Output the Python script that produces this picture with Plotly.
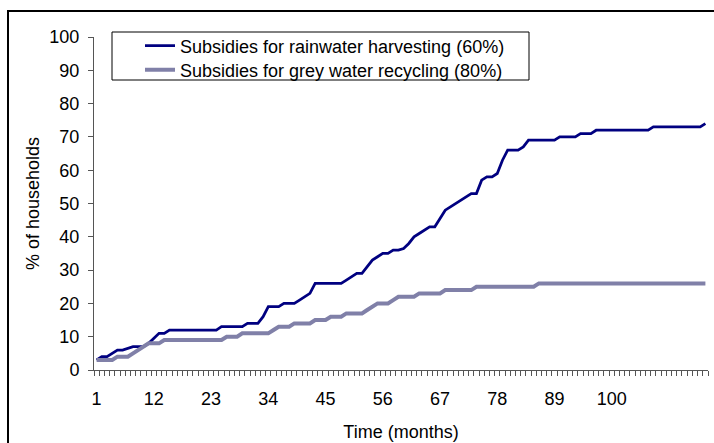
import plotly.graph_objects as go

months = list(range(1, 119))

rainwater = (
    [3, 4, 4, 5, 6, 6, 6.5, 7, 7, 7, 8, 9.5, 11, 11]
    + [12] * 10
    + [13] * 5
    + [14] * 3
    + [16, 19, 19, 19, 20, 20, 20, 21, 22, 23]
    + [26] * 6
    + [27, 28, 29, 29, 31, 33, 34, 35, 35, 36, 36, 36.5, 38, 40, 41, 42,
       43, 43, 45.5, 48, 49, 50, 51, 52, 53, 53, 57, 58, 58, 59, 63,
       66, 66, 66, 67]
    + [69] * 6
    + [70] * 4
    + [71] * 3
    + [72] * 11
    + [73] * 10
    + [74]
)

greywater = (
    [3] * 4
    + [4, 4, 4, 5, 6, 7]
    + [8] * 3
    + [9] * 12
    + [10] * 3
    + [11] * 6
    + [12]
    + [13] * 3
    + [14] * 4
    + [15] * 3
    + [16] * 3
    + [17] * 4
    + [18, 19]
    + [20] * 3
    + [21]
    + [22] * 4
    + [23] * 5
    + [24] * 6
    + [25] * 12
    + [26] * 33
)

x_tickvals = [1, 12, 23, 34, 45, 56, 67, 78, 89, 100]
y_tickvals = list(range(0, 101, 10))

series_names = [
    "Subsidies for rainwater harvesting (60%)",
    "Subsidies for grey water recycling (80%)",
]

FONT = "Liberation Sans, Arial, sans-serif"

W, H = 714, 443
L, R, T, B = 94, 6, 37, 73
pw = W - L - R
ph = H - T - B


def px_to_paper_x(px):
    return (px - L) / pw


def px_to_paper_y(py):
    return (H - B - py) / ph


fig = go.Figure()
fig.add_trace(go.Scatter(
    x=months, y=rainwater, mode="lines", name=series_names[0],
    line=dict(color="#000080", width=2.75), legend="legend",
))
fig.add_trace(go.Scatter(
    x=months, y=greywater, mode="lines", name=series_names[1],
    line=dict(color="#8080A8", width=4), legend="legend2",
))

legend_common = dict(
    xanchor="left", yanchor="middle",
    bgcolor="rgba(0,0,0,0)", borderwidth=0,
    font=dict(family=FONT, size=18, color="black"),
)

fig.update_layout(
    width=W, height=H,
    margin=dict(l=L, r=R, t=T, b=B, autoexpand=False),
    paper_bgcolor="white", plot_bgcolor="white",
    font=dict(family=FONT, size=18, color="black"),
    showlegend=True,
    legend=dict(x=px_to_paper_x(140), y=px_to_paper_y(46), **legend_common),
    legend2=dict(x=px_to_paper_x(140), y=px_to_paper_y(70), **legend_common),
    xaxis=dict(
        range=[0.5, 118.5],
        tickmode="array", tickvals=x_tickvals,
        ticks="", showgrid=False, zeroline=False, automargin=False,
        showline=True, linecolor="#555555", linewidth=1,
        tickfont=dict(family=FONT, size=18),
        ticklabelstandoff=12,
        minor=dict(ticks="outside", tick0=0.5, dtick=1, ticklen=5,
                   tickcolor="#555555", tickwidth=1, showgrid=False),
        title=dict(text="Time (months)", font=dict(family=FONT, size=18),
                   standoff=17),
    ),
    yaxis=dict(
        range=[0, 100],
        tickmode="array", tickvals=y_tickvals,
        ticks="outside", ticklen=5, tickcolor="#555555",
        showgrid=False, zeroline=False, automargin=False,
        showline=True, linecolor="#555555", linewidth=1,
        tickfont=dict(family=FONT, size=18),
        ticklabelstandoff=5,
        title=dict(text="% of households", font=dict(family=FONT, size=18),
                   standoff=5),
    ),
    shapes=[
        # outer chart frame
        dict(type="rect", xref="paper", yref="paper",
             x0=px_to_paper_x(8), x1=px_to_paper_x(760),
             y0=px_to_paper_y(500), y1=px_to_paper_y(11),
             line=dict(color="black", width=2), fillcolor="rgba(0,0,0,0)",
             layer="above"),
        # legend box
        dict(type="rect", xref="paper", yref="paper",
             x0=px_to_paper_x(112), x1=px_to_paper_x(529),
             y0=px_to_paper_y(80), y1=px_to_paper_y(32),
             line=dict(color="black", width=1), fillcolor="white",
             layer="above"),
    ],
)

fig.write_html(
    "out.html",
    config={"displayModeBar": False},
    post_script="document.body.style.margin='0';document.body.style.padding='0';",
)
